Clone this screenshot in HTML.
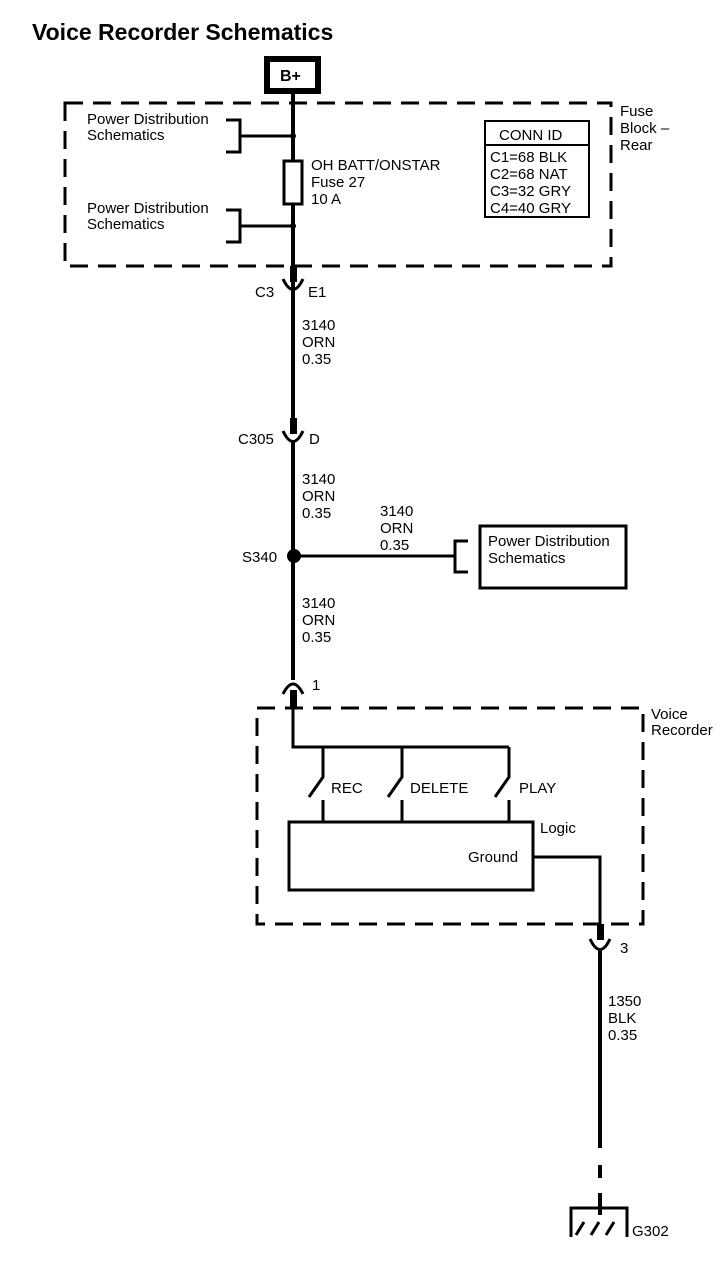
<!DOCTYPE html><html><head><style>body{margin:0;background:#fff}svg{display:block}text{font-family:"Liberation Sans",sans-serif;font-size:15px;fill:#000}</style></head><body>
<svg width="728" height="1264" viewBox="0 0 728 1264" xmlns="http://www.w3.org/2000/svg">
<text x="32" y="40" style="font-size:23px;font-weight:bold">Voice Recorder Schematics</text>
<rect x="267" y="59" width="51" height="32" fill="none" stroke="#000" stroke-width="6"/>
<text x="280" y="81" style="font-weight:bold;font-size:16px">B+</text>
<g fill="none" stroke="#000" stroke-width="3">
<rect x="65" y="103" width="546" height="163" stroke-dasharray="18,10"/>
<rect x="257" y="708" width="386" height="216" stroke-dasharray="18,10"/>
<g stroke-width="4">
<line x1="293" y1="94" x2="293" y2="161"/><line x1="293" y1="204" x2="293" y2="420"/>
<line x1="293" y1="440" x2="293" y2="680"/>
<line x1="600" y1="948" x2="600" y2="1148"/>
<path d="M600 1165V1178M600 1193V1215"/>
</g>
<rect x="284" y="161" width="18" height="43"/>
<path d="M226 120H240V152H226M240 136H293"/>
<path d="M226 210H240V242H226M240 226H293"/>
<path d="M283 279Q293 300 303 279"/>
<path d="M283 431Q293 452 303 431"/>
<line x1="293" y1="556" x2="455" y2="556"/>
<path d="M468 541H455V572H468"/>
<rect x="480" y="526" width="146" height="62"/>
<path d="M283 694Q293 674 303 694"/>
<path d="M293 708V747H509"/>
<path d="M323 747V777L309 797M323 800V822"/>
<path d="M402 747V777L388 797M402 800V822"/>
<path d="M509 747V777L495 797M509 800V822"/>
<rect x="289" y="822" width="244" height="68"/>
<path d="M533 857H600V924"/>
<path d="M590 939Q600 960 610 939"/>
<path d="M571 1237V1208H627V1237"/>
<path d="M576 1235L584 1222M591 1235L599 1222M606 1235L614 1222"/>
<rect x="485" y="121" width="104" height="96" stroke-width="2"/>
<line x1="485" y1="145" x2="589" y2="145" stroke-width="2"/>
</g>
<g fill="#000">
<rect x="290" y="266" width="7" height="16"/><rect x="290" y="418" width="7" height="16"/>
<rect x="290" y="690" width="7" height="18"/><rect x="597" y="924" width="7" height="16"/>
<circle cx="293" cy="136" r="3"/><circle cx="293" cy="226" r="3"/><circle cx="294" cy="556" r="7"/>
</g>
<text x="87" y="124">Power Distribution</text><text x="87" y="140">Schematics</text>
<text x="87" y="213">Power Distribution</text><text x="87" y="229">Schematics</text>
<text x="311" y="170">OH BATT/ONSTAR</text><text x="311" y="187">Fuse 27</text><text x="311" y="204">10 A</text>
<text x="620" y="116">Fuse</text><text x="620" y="133">Block –</text><text x="620" y="150">Rear</text>
<text x="499" y="140">CONN ID</text>
<text x="490" y="162">C1=68 BLK</text><text x="490" y="179">C2=68 NAT</text><text x="490" y="196">C3=32 GRY</text><text x="490" y="213">C4=40 GRY</text>
<text x="255" y="297">C3</text><text x="308" y="297">E1</text>
<text x="302" y="330">3140</text><text x="302" y="347">ORN</text><text x="302" y="364">0.35</text>
<text x="238" y="444">C305</text><text x="309" y="444">D</text>
<text x="302" y="484">3140</text><text x="302" y="501">ORN</text><text x="302" y="518">0.35</text>
<text x="380" y="516">3140</text><text x="380" y="533">ORN</text><text x="380" y="550">0.35</text>
<text x="242" y="562">S340</text>
<text x="488" y="546">Power Distribution</text><text x="488" y="563">Schematics</text>
<text x="302" y="608">3140</text><text x="302" y="625">ORN</text><text x="302" y="642">0.35</text>
<text x="312" y="690">1</text>
<text x="651" y="719">Voice</text><text x="651" y="735">Recorder</text>
<text x="331" y="793">REC</text><text x="410" y="793">DELETE</text><text x="519" y="793">PLAY</text>
<text x="540" y="833">Logic</text><text x="468" y="862">Ground</text>
<text x="620" y="953">3</text>
<text x="608" y="1006">1350</text><text x="608" y="1023">BLK</text><text x="608" y="1040">0.35</text>
<text x="632" y="1236">G302</text>
</svg></body></html>
